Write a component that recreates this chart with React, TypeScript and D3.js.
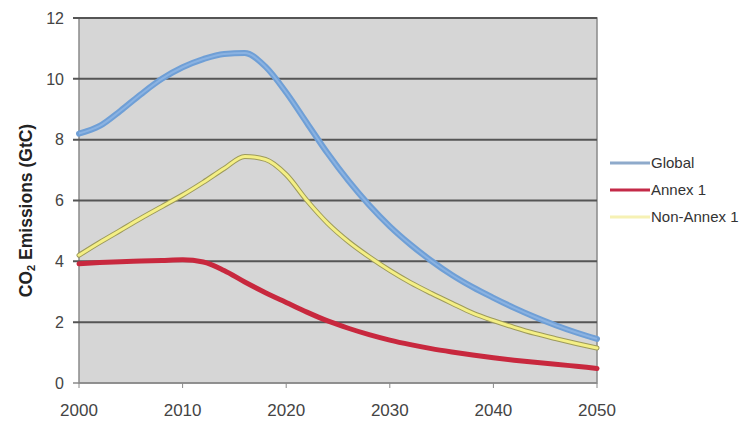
import React from "react";
import * as d3 from "d3";

// every two years, 2000..2050
const years = d3.range(2000, 2051, 2);
const globalVals = [8.2, 8.45, 8.95, 9.5, 10.0, 10.38, 10.65, 10.82, 10.85, 10.4, 9.55, 8.55, 7.55, 6.65, 5.85, 5.15, 4.55, 4.02, 3.55, 3.15, 2.8, 2.47, 2.17, 1.9, 1.66, 1.45];
const annexVals = [3.92, 3.96, 3.99, 4.01, 4.03, 4.05, 3.98, 3.7, 3.32, 2.97, 2.65, 2.33, 2.04, 1.8, 1.59, 1.41, 1.26, 1.13, 1.02, 0.92, 0.83, 0.75, 0.68, 0.62, 0.55, 0.48];
const nonAnnexVals = [4.2, 4.62, 5.02, 5.42, 5.8, 6.18, 6.6, 7.05, 7.45, 7.35, 6.85, 6.0, 5.25, 4.65, 4.15, 3.7, 3.3, 2.95, 2.62, 2.3, 2.05, 1.83, 1.63, 1.46, 1.3, 1.15];

const xTicks = [2000, 2010, 2020, 2030, 2040, 2050];
const yTicks = [0, 2, 4, 6, 8, 10, 12];
const legendLabels = ["Global", "Annex 1", "Non-Annex 1"];

const W = 746;
const H = 421;
const plot = { left: 79, right: 597, top: 18, bottom: 383 };

export default function App() {
  const x = d3.scaleLinear().domain([2000, 2050]).range([plot.left, plot.right]);
  const y = d3.scaleLinear().domain([0, 12]).range([plot.bottom, plot.top]);

  const line = d3
    .line<number>()
    .x((_, i) => x(years[i]))
    .y((d) => y(d))
    .curve(d3.curveMonotoneX);

  const font = "'Liberation Sans', Arial, sans-serif";

  return (
    <div style={{ position: "absolute", left: 0, top: 0 }}>
      <svg width={W} height={H} style={{ display: "block", background: "#fff" }}>
        <rect x={plot.left} y={plot.top} width={plot.right - plot.left} height={plot.bottom - plot.top} fill="#d6d6d6" stroke="#8a8a8a" strokeWidth={1.5} />
        {yTicks.map((t) => (
          <g key={t}>
            <line x1={plot.left - 6} x2={plot.right} y1={y(t)} y2={y(t)} stroke={t === 0 ? "#8a8a8a" : "#555"} strokeWidth={t === 0 ? 1.5 : 2} />
            <text x={64} y={y(t)} dy="0.36em" textAnchor="end" fontFamily={font} fontSize={16} fill="#444">
              {t}
            </text>
          </g>
        ))}
        {xTicks.map((t) => (
          <g key={t}>
            <line x1={x(t)} x2={x(t)} y1={plot.bottom} y2={plot.bottom + 5} stroke="#8a8a8a" strokeWidth={1} />
            <text x={x(t)} y={416} textAnchor="middle" fontFamily={font} fontSize={17} fill="#444">
              {t}
            </text>
          </g>
        ))}

        {/* series */}
        <path d={line(globalVals) || ""} fill="none" stroke="#6f9fd6" strokeWidth={6} strokeLinecap="round" />
        <path d={line(globalVals) || ""} fill="none" stroke="#9cc0ea" strokeWidth={2} opacity={0.6} />
        <path d={line(annexVals) || ""} fill="none" stroke="#c8283e" strokeWidth={5} strokeLinecap="round" />
        <path d={line(nonAnnexVals) || ""} fill="none" stroke="#9d9a5a" strokeWidth={5} strokeLinecap="round" />
        <path d={line(nonAnnexVals) || ""} fill="none" stroke="#f4ef85" strokeWidth={3} strokeLinecap="round" />

        <text transform={`translate(32,${(plot.top + plot.bottom) / 2 + 10}) rotate(-90)`} textAnchor="middle" fontFamily={font} fontSize={17.5} fontWeight="bold" fill="#222">
          CO<tspan fontSize={11} dy={3}>2</tspan>
          <tspan dy={-3}> Emissions (GtC)</tspan>
        </text>

        {/* legend */}
        {legendLabels.map((lab, i) => {
          const ly = 163 + i * 27;
          const colors = ["#8eaacb", "#c42a48", "#f6f1b4"];
          return (
            <g key={lab}>
              <line x1={610} x2={650} y1={ly} y2={ly} stroke={colors[i]} strokeWidth={3} />
              <text x={651} y={ly} dy="0.36em" fontFamily={font} fontSize={15} fill="#333">
                {lab}
              </text>
            </g>
          );
        })}
      </svg>
    </div>
  );
}
